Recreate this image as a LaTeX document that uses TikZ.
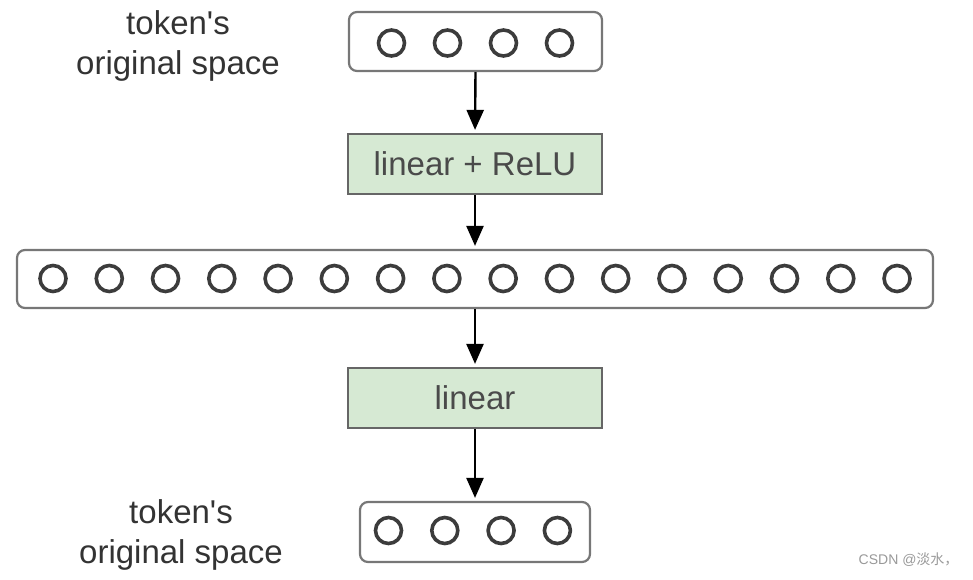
\documentclass[tikz,border=0pt]{standalone}
\usepackage{fontspec}
\setmainfont{Liberation Sans}
\newfontfamily\cjk{Noto Sans CJK SC}
\usetikzlibrary{arrows.meta}
\definecolor{boxline}{HTML}{777777}
\definecolor{greenfill}{HTML}{D6E9D3}
\definecolor{greenline}{HTML}{666666}
\definecolor{txtgray}{HTML}{333333}
\definecolor{greentxt}{HTML}{4A4A4A}
\definecolor{circcol}{HTML}{3C3C3C}
\tikzset{
  vecbox/.style={draw=boxline, line width=2.2pt, rounded corners=8pt, fill=white, inner sep=0pt},
  layerbox/.style={draw=greenline, line width=2.2pt, fill=greenfill, inner sep=0pt,
    minimum width=254pt, minimum height=60pt, text=greentxt, font=\fontsize{33}{38}\selectfont},
  unit/.style={circle, draw=circcol, line width=3.6pt, minimum size=26pt, inner sep=0pt},
  lbl/.style={align=center, text=txtgray, font=\fontsize{33}{40}\selectfont},
  flow/.style={-{Triangle[length=20pt,width=17pt]}, line width=2.4pt, black, shorten >=3pt},
}
\begin{document}
\begin{tikzpicture}[x=1pt,y=-1pt]
\useasboundingbox (0,0) rectangle (973,579);
% boxes
\node[vecbox, minimum width=253pt, minimum height=59pt] (top) at (475.5,41.5) {};
\node[layerbox] (relu) at (475,164) {linear + ReLU};
\node[vecbox, minimum width=916pt, minimum height=58pt] (wide) at (475,279) {};
\node[layerbox] (lin) at (475,398) {linear};
\node[vecbox, minimum width=230pt, minimum height=60pt] (bot) at (475,532) {};
% units
\foreach \i in {0,...,3}{
  \node[unit] (t\i) at ({391.5+56*\i},43) {};
  \node[unit] (b\i) at ({388.5+56.3*\i},530.5) {};
}
\foreach \i in {0,...,15}{
  \node[unit] (w\i) at ({53+56.27*\i},278.5) {};
}
% labels
\node[lbl] (l1) at (178,45.5) {token\textquotesingle s\\original space};
\node[lbl] (l2) at (181,534.5) {token\textquotesingle s\\original space};
% arrows
\draw[flow] (top.south) -- (relu.north);
\draw[flow] (relu.south) -- (wide.north);
\draw[flow] (wide.south) -- (lin.north);
\draw[flow] (lin.south) -- (bot.north);
% watermark
\node[text=gray!80, font=\fontsize{14}{16}\selectfont, anchor=east] (wm) at (962,560) {CSDN @{\cjk 淡水，}};
\end{tikzpicture}
\end{document}
